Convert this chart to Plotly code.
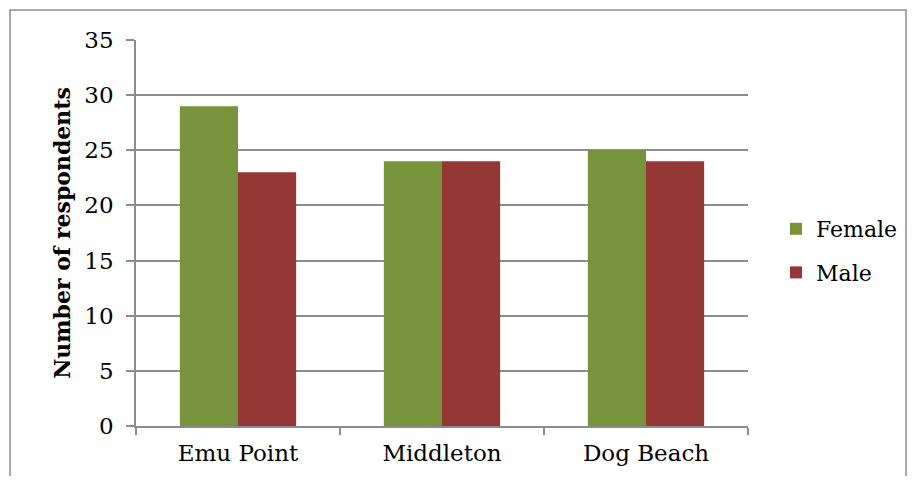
import plotly.graph_objects as go

categories = ["Emu Point", "Middleton", "Dog Beach"]
female = [29, 24, 25]
male = [23, 24, 24]
y_ticks = [0, 5, 10, 15, 20, 25, 30, 35]

OFF = 8  # page body margin
W, H = 915 - 2 * OFF, 484 - 2 * OFF
L, R, T, B = 136 - OFF, 748 - OFF, 40 - OFF, 426 - OFF
pw, ph = R - L, B - T

font = "DejaVu Serif"
grid = "#8c8c8c"

fig = go.Figure()
fig.add_trace(go.Bar(x=categories, y=female, name="Female", legendgroup="f",
                     marker_color="#77933C", marker_line_width=0))
fig.add_trace(go.Bar(x=categories, y=male, name="Male", legendgroup="m",
                     marker_color="#953735", marker_line_width=0))

def px(x):
    return (x - OFF - L) / pw

def py(y):
    return (B - (y - OFF)) / ph

fig.update_layout(
    width=W, height=H,
    margin=dict(l=L, r=W - R, t=T, b=H - B, pad=0, autoexpand=False),
    paper_bgcolor="white", plot_bgcolor="white",
    barmode="group", bargap=0.43, bargroupgap=0,
    font=dict(family=font, size=22, color="black"),
    legend=dict(xref="container", yref="container",
                x=(776 - OFF) / W, y=1 - (251 - OFF) / H, yanchor="middle", xanchor="left",
                font=dict(family=font, size=22), itemsizing="constant",
                tracegroupgap=12, bgcolor="rgba(0,0,0,0)"),
    shapes=[dict(type="rect", xref="paper", yref="paper",
                 x0=px(10), x1=px(906), y0=py(495), y1=py(10),
                 line=dict(color="#8c8c8c", width=1.5), fillcolor="rgba(0,0,0,0)", layer="below")],
)
fig.update_xaxes(showline=True, linecolor=grid, linewidth=1.5, ticks="outside",
                 tickson="boundaries", ticklen=7, tickcolor=grid, tickwidth=1.5,
                 showgrid=False, tickfont=dict(family=font, size=23), ticklabelstandoff=6)
fig.update_yaxes(range=[0, 35], tickvals=y_ticks, showline=True, linecolor=grid, linewidth=1.5,
                 ticks="outside", ticklen=8, tickcolor=grid, tickwidth=1.5,
                 showgrid=True, gridcolor=grid, gridwidth=1.5, zeroline=False,
                 tickfont=dict(family=font, size=23), ticklabelstandoff=8,
                 title=dict(text="<b>Number of respondents</b>", font=dict(family=font, size=22), standoff=8))

fig.write_html("out.html")
